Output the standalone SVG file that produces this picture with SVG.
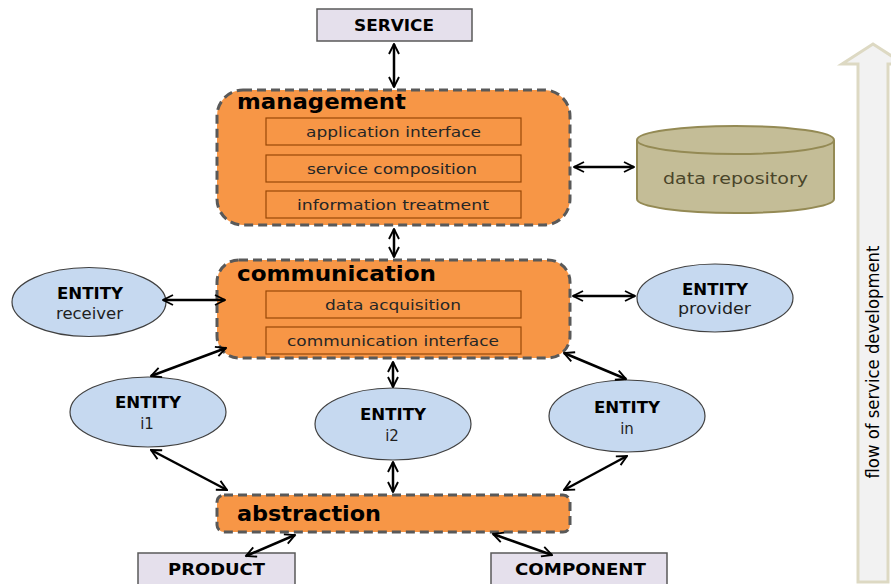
<svg xmlns="http://www.w3.org/2000/svg" width="891" height="584" viewBox="0 0 891 584">
  <style>
    .layer { fill: #f79646; stroke: #595959; stroke-width: 3; stroke-dasharray: 9 5; }
    .sub { fill: none; stroke: #984807; stroke-width: 1.2; }
    .subtxt { font-family: "DejaVu Sans", "Open Sans", sans-serif; font-size: 14.5px; fill: #262626; text-anchor: middle; }
    .title { font-family: "DejaVu Sans", "Open Sans", sans-serif; font-size: 22px; font-weight: bold; fill: #000; }
    .term { fill: #e5e0ec; stroke: #595959; stroke-width: 1.5; }
    .termtxt { font-family: "DejaVu Sans", "Open Sans", sans-serif; font-size: 16px; font-weight: bold; fill: #000; text-anchor: middle; }
    .entity { fill: #c6d9f0; stroke: #404040; stroke-width: 1.2; }
    .ent1 { font-family: "DejaVu Sans", "Open Sans", sans-serif; font-size: 16px; font-weight: bold; fill: #000; text-anchor: middle; }
    .ent2 { font-family: "DejaVu Sans", "Open Sans", sans-serif; font-size: 15px; fill: #1f1f1f; text-anchor: middle; }
    .link { stroke: #000; stroke-width: 2.5; fill: none; marker-start: url(#head); marker-end: url(#head); }
  </style>
  <defs>
    <marker id="head" viewBox="0 0 10 10" refX="9" refY="5" markerWidth="5" markerHeight="5" orient="auto-start-reverse" markerUnits="strokeWidth">
      <path d="M1,1 L9,5 L1,9" fill="none" stroke="#000" stroke-width="1.5"/>
    </marker>
  </defs>

  <!-- flow arrow on the right -->
  <g id="flow">
    <path d="M858,582 L858,64 L842,64 L873,44 L904,64 L888,64 L888,582 Z" fill="#f2f2f2" stroke="#ddd9c3" stroke-width="3"/>
    <text transform="translate(879,362) rotate(-90)" font-family="'DejaVu Sans', 'Open Sans', sans-serif" font-size="17" fill="#000" text-anchor="middle" textLength="233" lengthAdjust="spacingAndGlyphs">flow of service development</text>
  </g>

  <g id="service">
    <rect class="term" x="317" y="9" width="155" height="32"/>
    <text class="termtxt" x="394" y="31" textLength="80" lengthAdjust="spacingAndGlyphs">SERVICE</text>
  </g>

  <g id="management">
    <rect class="layer" x="217" y="90" width="353" height="135" rx="26"/>
    <text class="title" x="237" y="109" textLength="169" lengthAdjust="spacingAndGlyphs">management</text>
    <rect class="sub" x="266" y="118" width="255" height="27"/>
    <text class="subtxt" x="393.5" y="137" textLength="175" lengthAdjust="spacingAndGlyphs">application interface</text>
    <rect class="sub" x="266" y="155" width="255" height="27"/>
    <text class="subtxt" x="392" y="174" textLength="170" lengthAdjust="spacingAndGlyphs">service composition</text>
    <rect class="sub" x="266" y="191" width="255" height="27"/>
    <text class="subtxt" x="393" y="210" textLength="192" lengthAdjust="spacingAndGlyphs">information treatment</text>
  </g>

  <g id="data-repository">
    <path d="M637,140 L637,199 A98.5,14 0 0 0 834,199 L834,140" fill="#c4bd97" stroke="#948a54" stroke-width="2"/>
    <ellipse cx="735.5" cy="140" rx="98.5" ry="14" fill="#c4bd97" stroke="#948a54" stroke-width="2"/>
    <text x="735.5" y="184" font-family="'DejaVu Sans', 'Open Sans', sans-serif" font-size="16" fill="#4a452a" text-anchor="middle" textLength="145" lengthAdjust="spacingAndGlyphs">data repository</text>
  </g>

  <g id="communication">
    <rect class="layer" x="217" y="260" width="353" height="98" rx="22"/>
    <text class="title" x="237" y="281" textLength="199" lengthAdjust="spacingAndGlyphs">communication</text>
    <rect class="sub" x="266" y="291" width="255" height="27"/>
    <text class="subtxt" x="393" y="310" textLength="136" lengthAdjust="spacingAndGlyphs">data acquisition</text>
    <rect class="sub" x="266" y="327" width="255" height="27"/>
    <text class="subtxt" x="393" y="346" textLength="212" lengthAdjust="spacingAndGlyphs">communication interface</text>
  </g>

  <g id="entity-receiver">
    <ellipse class="entity" cx="89" cy="302" rx="77" ry="34.5"/>
    <text class="ent1" x="90" y="299" textLength="66" lengthAdjust="spacingAndGlyphs">ENTITY</text>
    <text class="ent2" x="89.5" y="319" textLength="67" lengthAdjust="spacingAndGlyphs">receiver</text>
  </g>

  <g id="entity-provider">
    <ellipse class="entity" cx="715" cy="298" rx="78" ry="34"/>
    <text class="ent1" x="715" y="295" textLength="66" lengthAdjust="spacingAndGlyphs">ENTITY</text>
    <text class="ent2" x="714.5" y="314" textLength="73" lengthAdjust="spacingAndGlyphs">provider</text>
  </g>

  <g id="entity-i1">
    <ellipse class="entity" cx="148" cy="412" rx="78" ry="35"/>
    <text class="ent1" x="148" y="408" textLength="66" lengthAdjust="spacingAndGlyphs">ENTITY</text>
    <text class="ent2" x="147" y="429">i1</text>
  </g>

  <g id="entity-i2">
    <ellipse class="entity" cx="393" cy="424" rx="78" ry="36"/>
    <text class="ent1" x="393" y="420" textLength="66" lengthAdjust="spacingAndGlyphs">ENTITY</text>
    <text class="ent2" x="392" y="441">i2</text>
  </g>

  <g id="entity-in">
    <ellipse class="entity" cx="627" cy="416" rx="78" ry="36"/>
    <text class="ent1" x="627" y="413" textLength="66" lengthAdjust="spacingAndGlyphs">ENTITY</text>
    <text class="ent2" x="627" y="434">in</text>
  </g>

  <g id="abstraction">
    <rect class="layer" x="217" y="495" width="353" height="37" rx="7"/>
    <text class="title" x="237" y="521" textLength="144" lengthAdjust="spacingAndGlyphs">abstraction</text>
  </g>

  <g id="product">
    <rect class="term" x="138" y="553" width="157" height="34"/>
    <text class="termtxt" x="216.5" y="575" textLength="97" lengthAdjust="spacingAndGlyphs">PRODUCT</text>
  </g>

  <g id="component">
    <rect class="term" x="491" y="553" width="176" height="34"/>
    <text class="termtxt" x="580.5" y="575" textLength="131" lengthAdjust="spacingAndGlyphs">COMPONENT</text>
  </g>

  <!-- double-headed connectors, drawn on top of the layers -->
  <g id="connectors">
    <line class="link" x1="394" y1="44" x2="394" y2="87"/>
    <line class="link" x1="574" y1="167" x2="634" y2="167"/>
    <line class="link" x1="394" y1="229" x2="394" y2="257"/>
    <line class="link" x1="163" y1="300" x2="225" y2="300"/>
    <line class="link" x1="573" y1="296" x2="635" y2="296"/>
    <line class="link" x1="226" y1="348" x2="151" y2="376"/>
    <line class="link" x1="393" y1="362" x2="393" y2="387"/>
    <line class="link" x1="564" y1="353" x2="626" y2="379"/>
    <line class="link" x1="151" y1="450" x2="227" y2="490"/>
    <line class="link" x1="393" y1="462" x2="393" y2="492"/>
    <line class="link" x1="627" y1="456" x2="564" y2="490"/>
    <line class="link" x1="295" y1="535" x2="246" y2="556"/>
    <line class="link" x1="493" y1="534" x2="552" y2="555"/>
  </g>
</svg>
